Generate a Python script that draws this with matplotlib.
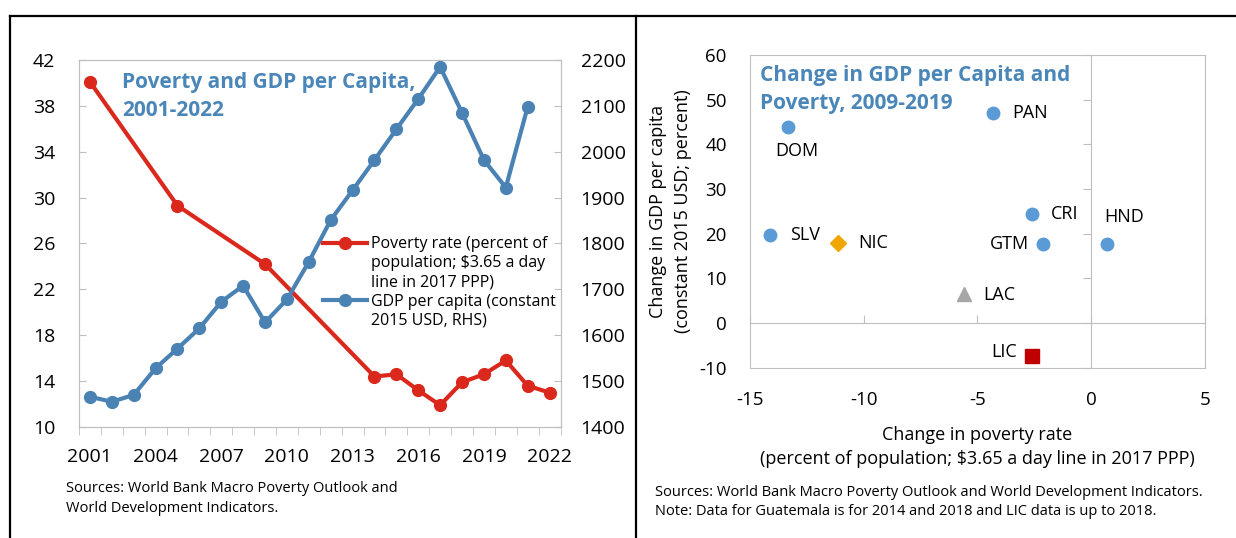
import matplotlib
matplotlib.use('Agg')
import matplotlib.pyplot as plt
from matplotlib.lines import Line2D

plt.rcParams['font.family'] = ['Open Sans', 'DejaVu Sans']
plt.rcParams['axes.unicode_minus'] = False

# Left panel: poverty rate and GDP per capita
gdp_years = list(range(2001, 2022))
gdp = [1466, 1455, 1470, 1528, 1571, 1615, 1673, 1708, 1628, 1678, 1760,
       1851, 1916, 1982, 2049, 2115, 2185, 2085, 1982, 1922, 2098]
pov_years = [2001, 2005, 2009, 2014, 2015, 2016, 2017, 2018, 2019, 2020, 2021, 2022]
poverty = [40.1, 29.3, 24.2, 14.4, 14.6, 13.2, 11.9, 13.9, 14.6, 15.8, 13.6, 13.0]
year_labels = list(range(2001, 2023, 3))

# Right panel: change 2009-2019
countries = ['DOM', 'PAN', 'CRI', 'GTM', 'HND', 'SLV', 'NIC', 'LAC', 'LIC']
d_poverty = [-13.3, -4.3, -2.6, -2.1, 0.7, -14.1, -11.1, -5.6, -2.6]
d_gdp = [43.9, 47.1, 24.5, 17.6, 17.6, 19.6, 17.9, 6.6, -7.4]

RED = '#DA291C'
BLUE = '#4A82B4'
TITLE = '#4A86B8'
GRAY = '#BFBFBF'

fig = plt.figure(figsize=(12.36, 5.38), dpi=100)

# panel frame lines
for xy in [([10 / 1236, 1], [0.9703, 0.9703]),
           ([10 / 1236, 10 / 1236], [0, 0.9703]),
           ([636 / 1236, 636 / 1236], [0, 0.9703])]:
    fig.add_artist(Line2D(xy[0], xy[1], transform=fig.transFigure, color='black', lw=1.6))

# ---------------- left panel ----------------
ax1 = fig.add_axes([0.0639, 0.2063, 0.3896, 0.6822])
ax2 = ax1.twinx()

ax1.plot(pov_years, poverty, color=RED, lw=3, marker='o', ms=8.5, zorder=3)
ax2.plot(gdp_years, gdp, color=BLUE, lw=3, marker='o', ms=8.5, zorder=3)

ax1.set_xlim(2000.5, 2022.5)
ax1.set_ylim(10, 42)
ax1.set_yticks(range(10, 43, 4))
ax2.set_ylim(1400, 2200)
ax2.set_yticks(range(1400, 2201, 100))
ax1.set_xticks(year_labels)
ax1.set_xticks([y + 0.5 for y in range(2000, 2023)], minor=True)
ax1.tick_params(axis='x', which='major', length=0, pad=15, labelsize=14)
ax1.tick_params(axis='x', which='minor', length=6, direction='out', color=GRAY)
ax1.tick_params(axis='y', direction='in', length=5, color=GRAY, pad=17, labelsize=14)
ax2.tick_params(axis='y', direction='in', length=5, color=GRAY, pad=14.5, labelsize=14)
for a in (ax1, ax2):
    for s in a.spines.values():
        s.set_color(GRAY)

title_kw = dict(ha='left', va='center', fontsize=15, fontweight='bold', color=TITLE)
ax2.text(0.09, 0.94, 'Poverty and GDP per Capita,', transform=ax2.transAxes, **title_kw)
ax2.text(0.09, 0.862, '2001-2022', transform=ax2.transAxes, **title_kw)

handles = [
    Line2D([], [], color=RED, lw=3, marker='o', ms=8.5),
    Line2D([], [], linestyle='none'),
    Line2D([], [], linestyle='none'),
    Line2D([], [], color=BLUE, lw=3, marker='o', ms=8.5),
    Line2D([], [], linestyle='none'),
]
labels = ['Poverty rate (percent of', 'population; $3.65 a day', 'line in 2017 PPP)',
          'GDP per capita (constant', '2015 USD, RHS)']
ax2.legend(handles, labels, loc='upper left', bbox_to_anchor=(0.507, 0.52), frameon=False,
           fontsize=11.5, handlelength=2.75, handletextpad=0.25, labelspacing=0.2,
           borderpad=0, borderaxespad=0)

fig.text(66 / 1236, 1 - 481 / 538,
         'Sources: World Bank Macro Poverty Outlook and\nWorld Development Indicators.',
         ha='left', va='top', fontsize=10.5, linespacing=1.45)

# ---------------- right panel ----------------
rect = [0.6066, 0.3165, 0.3681, 0.5813]
ax = fig.add_axes(rect)
ax.set_xlim(-15, 5)
ax.set_ylim(-10, 60)
ax.set_xticks(range(-15, 6, 5))
ax.set_yticks(range(-10, 61, 10))
ax.tick_params(length=0, labelsize=13.5)
ax.tick_params(axis='x', pad=17)
ax.tick_params(axis='y', pad=16.5)
for s in ax.spines.values():
    s.set_color(GRAY)
ax.set_xlabel('Change in poverty rate\n(percent of population; $3.65 a day line in 2017 PPP)',
              fontsize=13, labelpad=12, linespacing=1.45)
ax.set_ylabel('Change in GDP per capita\n(constant 2015 USD; percent)',
              fontsize=13, labelpad=5, linespacing=1.5)

axz = fig.add_axes(rect, sharex=ax, sharey=ax)
axz.patch.set_visible(False)
axz.spines['top'].set_visible(False)
axz.spines['right'].set_visible(False)
axz.spines['left'].set_position(('data', 0))
axz.spines['bottom'].set_position(('data', 0))
axz.spines['left'].set_color(GRAY)
axz.spines['bottom'].set_color(GRAY)
axz.tick_params(labelleft=False, labelbottom=False, color=GRAY, length=6)
axz.tick_params(axis='x', direction='in')
axz.tick_params(axis='y', direction='out')

styles = {
    'NIC': dict(marker='D', color='#F0A500', ms=8),
    'LAC': dict(marker='^', color='#A6A6A6', ms=10),
    'LIC': dict(marker='s', color='#C00000', ms=10.5),
}
offsets = {
    'DOM': ((6, -17), 'center'),
    'PAN': ((13.5, 0), 'left'),
    'CRI': ((13.5, 0), 'left'),
    'GTM': ((-10, 0), 'right'),
    'HND': ((-2, 20), 'left'),
    'SLV': ((14, 0), 'left'),
    'NIC': ((14, 0), 'left'),
    'LAC': ((14, -1), 'left'),
    'LIC': ((-10.5, 3), 'right'),
}
for name, xv, yv in zip(countries, d_poverty, d_gdp):
    st = styles.get(name, dict(marker='o', color='#5B9BD5', ms=9))
    axz.plot([xv], [yv], linestyle='none', marker=st['marker'], color=st['color'],
             ms=st['ms'], zorder=4)
    off, ha = offsets[name]
    axz.annotate(name, (xv, yv), xytext=off, textcoords='offset points',
                 ha=ha, va='center', fontsize=13)

axz.text(0.0215, 0.935, 'Change in GDP per Capita and', transform=axz.transAxes, **title_kw)
axz.text(0.0215, 0.845, 'Poverty, 2009-2019', transform=axz.transAxes, **title_kw)

fig.text(655 / 1236, 1 - 485 / 538,
         'Sources: World Bank Macro Poverty Outlook and World Development Indicators.\n'
         'Note: Data for Guatemala is for 2014 and 2018 and LIC data is up to 2018.',
         ha='left', va='top', fontsize=10.5, linespacing=1.4)

fig.savefig('out.png', dpi=100)
